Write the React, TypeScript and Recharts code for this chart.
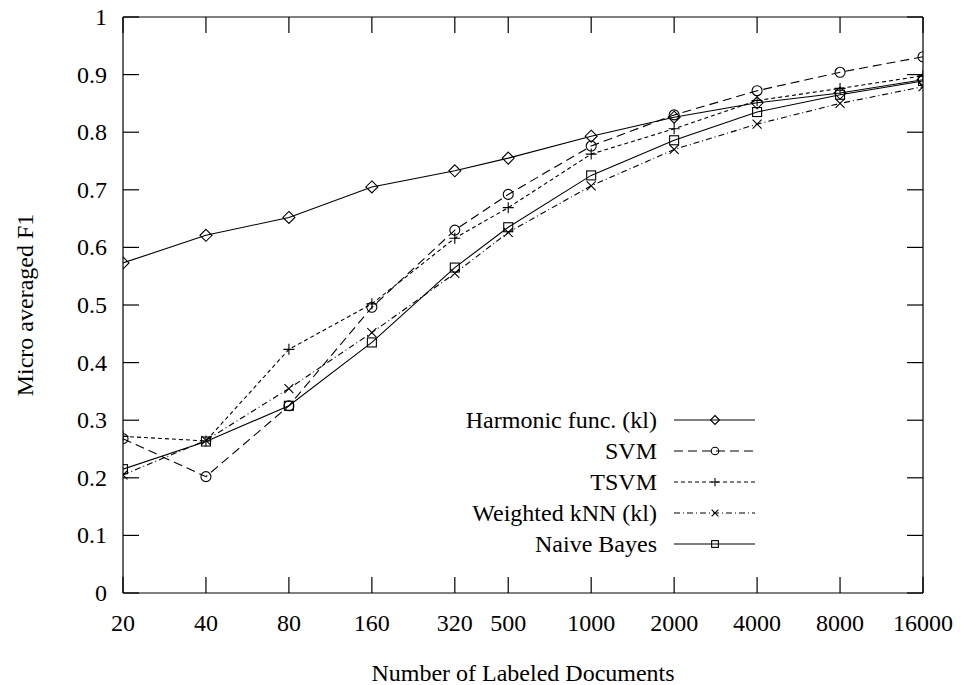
import { LineChart, Line, XAxis, YAxis, Legend } from 'recharts'

const docs = [20, 40, 80, 160, 320, 500, 1000, 2000, 4000, 8000, 16000]
const harmonic = [0.573, 0.621, 0.652, 0.705, 0.733, 0.755, 0.793, 0.826, 0.851, 0.868, 0.891]
const svm = [0.268, 0.202, 0.325, 0.496, 0.63, 0.692, 0.776, 0.83, 0.872, 0.904, 0.931]
const tsvm = [0.272, 0.264, 0.423, 0.502, 0.616, 0.669, 0.762, 0.806, 0.855, 0.876, 0.898]
const knn = [0.205, 0.265, 0.355, 0.452, 0.555, 0.626, 0.707, 0.77, 0.814, 0.85, 0.879]
const naiveBayes = [0.215, 0.263, 0.325, 0.435, 0.565, 0.635, 0.725, 0.786, 0.835, 0.865, 0.889]
const yTicks = [0, 0.1, 0.2, 0.3, 0.4, 0.5, 0.6, 0.7, 0.8, 0.9, 1]

const rows = docs.map((d, i) => ({
  docs: d,
  harmonic: harmonic[i],
  svm: svm[i],
  tsvm: tsvm[i],
  knn: knn[i],
  nb: naiveBayes[i],
}))

type Shape = 'diamond' | 'circle' | 'plus' | 'cross' | 'square'

const series: { key: string; name: string; dash?: string; shape: Shape }[] = [
  { key: 'harmonic', name: 'Harmonic func. (kl)', shape: 'diamond' },
  { key: 'svm', name: 'SVM', dash: '9 5', shape: 'circle' },
  { key: 'tsvm', name: 'TSVM', dash: '4 3', shape: 'plus' },
  { key: 'knn', name: 'Weighted kNN (kl)', dash: '6 3 1 3', shape: 'cross' },
  { key: 'nb', name: 'Naive Bayes', shape: 'square' },
]

// plot frame (chart margins + axis sizes below)
const PLOT_TOP = 17
const PLOT_BOTTOM = 593
const PLOT_LEFT = 123
const PLOT_RIGHT = 923
const TICK_LEN = 16

const FONT = 'Liberation Serif'
const INK = '#000'

function Marker({ shape, cx, cy, big }: { shape: Shape; cx: number; cy: number; big: boolean }) {
  const k = big ? 1 : 0.75
  const p = { fill: 'none', stroke: INK, strokeWidth: 1.1 }
  switch (shape) {
    case 'diamond': {
      const s = 6 * k
      return <polygon {...p} points={`${cx},${cy - s} ${cx + s},${cy} ${cx},${cy + s} ${cx - s},${cy}`} />
    }
    case 'circle':
      return <circle {...p} cx={cx} cy={cy} r={5 * k} />
    case 'square': {
      const s = 4.5 * k
      return <rect {...p} x={cx - s} y={cy - s} width={2 * s} height={2 * s} />
    }
    case 'plus': {
      const s = 5.5 * k
      return <path {...p} d={`M${cx - s},${cy}H${cx + s}M${cx},${cy - s}V${cy + s}`} />
    }
    default: {
      const s = 4.5 * k
      return <path {...p} d={`M${cx - s},${cy - s}L${cx + s},${cy + s}M${cx - s},${cy + s}L${cx + s},${cy - s}`} />
    }
  }
}

// inward ticks on both sides, label outside
function XTick({ x, y, payload }: any) {
  return (
    <g>
      <line x1={x} x2={x} y1={PLOT_BOTTOM} y2={PLOT_BOTTOM - TICK_LEN} stroke={INK} strokeWidth={1.2} />
      <line x1={x} x2={x} y1={PLOT_TOP} y2={PLOT_TOP + TICK_LEN} stroke={INK} strokeWidth={1.2} />
      <text x={x} y={y + 17} textAnchor="middle" fontFamily={FONT} fontSize={24} fill={INK}>
        {payload.value}
      </text>
    </g>
  )
}

function YTick({ x, y, payload }: any) {
  return (
    <g>
      <line x1={PLOT_LEFT} x2={PLOT_LEFT + TICK_LEN} y1={y} y2={y} stroke={INK} strokeWidth={1.2} />
      <line x1={PLOT_RIGHT} x2={PLOT_RIGHT - TICK_LEN} y1={y} y2={y} stroke={INK} strokeWidth={1.2} />
      <text x={x} y={y + 8} textAnchor="end" fontFamily={FONT} fontSize={24} fill={INK}>
        {payload.value}
      </text>
    </g>
  )
}

function LegendBox() {
  return (
    <svg width={380} height={160} style={{ display: 'block' }}>
      {series.map((s, i) => {
        const y = 16 + i * 31
        return (
          <g key={s.key}>
            <text x={257} y={y + 8} textAnchor="end" fontFamily={FONT} fontSize={24} fill={INK}>
              {s.name}
            </text>
            <line x1={274} x2={355} y1={y} y2={y} stroke={INK} strokeWidth={1.1} strokeDasharray={s.dash} />
            <Marker shape={s.shape} cx={315} cy={y} big={false} />
          </g>
        )
      })}
    </svg>
  )
}

export default function App() {
  const axisLine = { stroke: INK, strokeWidth: 1.2 }
  return (
    <div style={{ position: 'absolute', left: 0, top: 0, width: 962, height: 685, background: '#fff' }}>
      <LineChart width={962} height={685} data={rows} margin={{ top: PLOT_TOP, right: 962 - PLOT_RIGHT, bottom: 0, left: 0 }}>
        {/* frame on top and right */}
        <XAxis xAxisId="ti" orientation="top" mirror height={1} dataKey="docs" type="number" scale="log" domain={[20, 16000]} allowDataOverflow ticks={docs} tick={false} tickLine={false} axisLine={axisLine} />
        <YAxis yAxisId="ri" orientation="right" mirror width={1} type="number" domain={[0, 1]} allowDataOverflow ticks={yTicks} tick={false} tickLine={false} axisLine={axisLine} />

        <XAxis
          xAxisId="x"
          dataKey="docs"
          type="number"
          scale="log"
          domain={[20, 16000]}
          allowDataOverflow
          ticks={docs}
          interval={0}
          height={685 - PLOT_BOTTOM}
          tickSize={0}
          tickMargin={21}
          tickLine={false}
          axisLine={axisLine}
          tick={<XTick />}
          label={{ value: 'Number of Labeled Documents', position: 'center', dy: 33, fill: INK, fontSize: 24, fontFamily: FONT }}
        />
        <YAxis
          yAxisId="y"
          type="number"
          domain={[0, 1]}
          allowDataOverflow
          ticks={yTicks}
          interval={0}
          width={PLOT_LEFT}
          tickSize={0}
          tickMargin={16}
          tickLine={false}
          axisLine={axisLine}
          tick={<YTick />}
          label={{ value: 'Micro averaged F1', angle: -90, position: 'center', dx: -37, fill: INK, fontSize: 24, fontFamily: FONT }}
        />
        <Legend
          layout="vertical"
          verticalAlign="middle"
          align="center"
          content={() => <LegendBox />}
          wrapperStyle={{ position: 'absolute', left: 400, top: 404, width: 380, height: 160 }}
        />
        {series.map((s) => (
          <Line
            key={s.key}
            xAxisId="x"
            yAxisId="y"
            dataKey={s.key}
            name={s.name}
            type="linear"
            stroke={INK}
            strokeWidth={1.1}
            strokeDasharray={s.dash}
            isAnimationActive={false}
            dot={(props: any) => <Marker key={`${s.key}-${props.index}`} shape={s.shape} cx={props.cx} cy={props.cy} big />}
            activeDot={false}
          />
        ))}
      </LineChart>
    </div>
  )
}
